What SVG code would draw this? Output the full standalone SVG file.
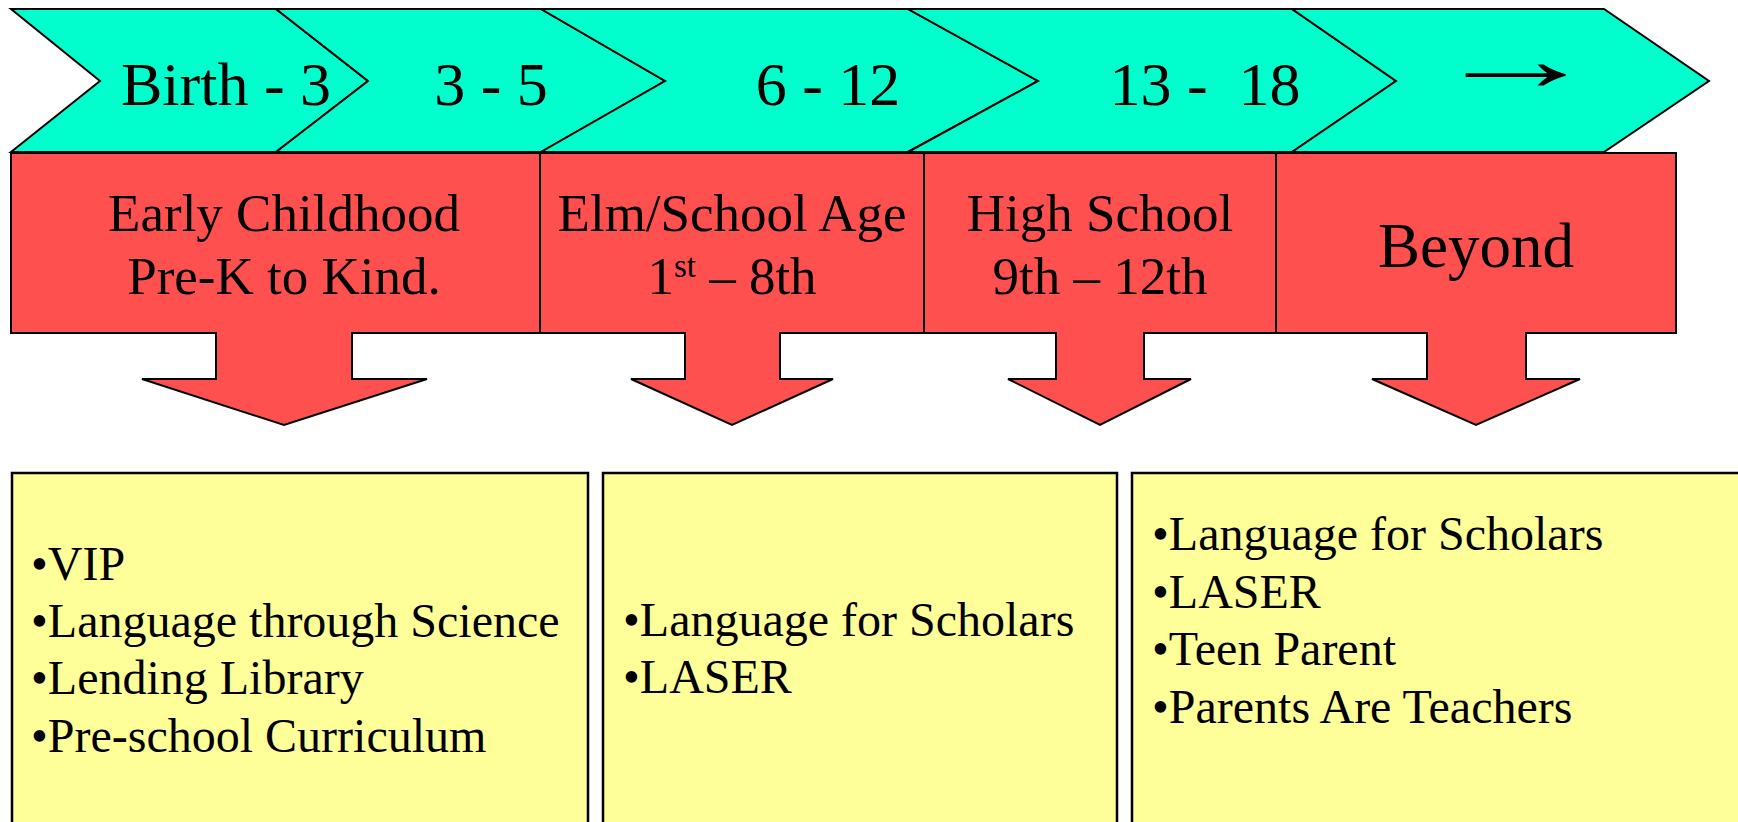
<svg xmlns="http://www.w3.org/2000/svg" width="1738" height="822" viewBox="0 0 1738 822">
<style>
.chev{fill:#00FFCC;stroke:#000;stroke-width:2;stroke-linejoin:miter}
.call{fill:#FF5050;stroke:#000;stroke-width:2;stroke-linejoin:miter}
.box{fill:#FFFF99;stroke:#000;stroke-width:2.5}
text{font-family:"Liberation Serif","Times New Roman",serif;fill:#000}
.t62{font-size:62px;text-anchor:middle}
.t53{font-size:53px;text-anchor:middle}
.t48{font-size:48px}
</style>
<rect width="1738" height="822" fill="#fff"/>
<g id="stages">
<g id="chev1"><polygon class="chev" points="11,9 276,9 368,81 276,152 11,152 100,81"/><text class="t62" x="226" y="105">Birth - 3</text></g>
<g id="chev2"><polygon class="chev" points="276,9 541,9 665,81 541,152 276,152 368,81"/><text class="t62" x="491" y="105">3 - 5</text></g>
<g id="chev3"><polygon class="chev" points="541,9 908,9 1038,81 908,152 541,152 665,81"/><text class="t62" x="828" y="105">6 - 12</text></g>
<g id="chev4"><polygon class="chev" points="908,9 1292,9 1396,81 1292,152 908,152 1038,81"/><text class="t62" x="1205" y="105">13 -&#160; 18</text></g>
<g id="chev5"><polygon class="chev" points="1292,9 1604,9 1709,81 1604,152 1292,152 1396,81"/><text transform="translate(1431.5,90) scale(1.88,1)" x="0" y="0" style="font-size:90px">→</text></g>
</g>
<g id="levels">
<g id="early"><path class="call" d="M11,153 H540 V333 H352 V379 H427 L284,425 L142,379 H216 V333 H11 Z"/><text class="t53" x="284" y="231">Early Childhood</text><text class="t53" x="284" y="294">Pre-K to Kind.</text></g>
<g id="elm"><path class="call" d="M540,153 H924 V333 H780 V379 H833 L732,425 L631,379 H685 V333 H540 Z"/><text class="t53" x="732" y="231">Elm/School Age</text><text class="t53" x="732" y="294">1<tspan font-size="33" dy="-17">st</tspan><tspan dy="17"> – 8th</tspan></text></g>
<g id="high"><path class="call" d="M924,153 H1276 V333 H1144 V379 H1191 L1100,425 L1008,379 H1056 V333 H924 Z"/><text class="t53" x="1100" y="231">High School</text><text class="t53" x="1100" y="294">9th – 12th</text></g>
<g id="beyond"><path class="call" d="M1276,153 H1676 V333 H1526 V379 H1580 L1476,425 L1372,379 H1427 V333 H1276 Z"/><text x="1476" y="267" style="font-size:63px;text-anchor:middle">Beyond</text></g>
</g>
<g id="programs">
<g id="prog1"><rect class="box" x="12" y="473" width="576" height="380"/><text class="t48" x="31" y="580">•VIP</text><text class="t48" x="31" y="637">•Language through Science</text><text class="t48" x="31" y="694">•Lending Library</text><text class="t48" x="31" y="752">•Pre-school Curriculum</text></g>
<g id="prog2"><rect class="box" x="603" y="473" width="514" height="380"/><text class="t48" x="623" y="636">•Language for Scholars</text><text class="t48" x="623" y="693">•LASER</text></g>
<g id="prog3"><rect class="box" x="1132" y="473" width="640" height="380"/><text class="t48" x="1152" y="550">•Language for Scholars</text><text class="t48" x="1152" y="608">•LASER</text><text class="t48" x="1152" y="665">•Teen Parent</text><text class="t48" x="1152" y="723">•Parents Are Teachers</text></g>
</g>
<g id="connectors"></g>
</svg>
